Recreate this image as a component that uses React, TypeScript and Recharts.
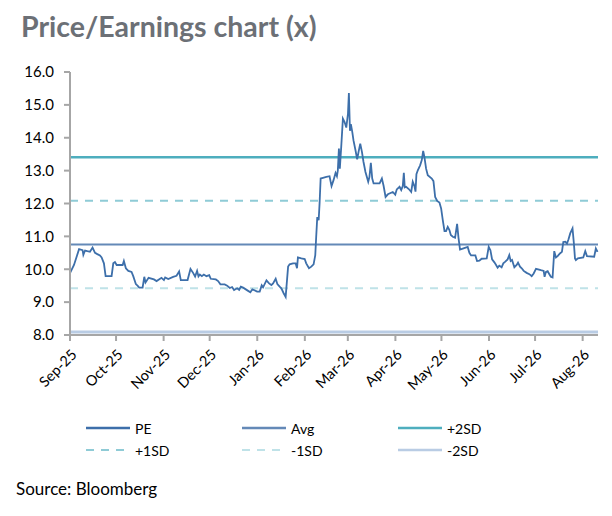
import React from 'react';
import { LineChart, Line, XAxis, YAxis, ReferenceLine } from 'recharts';

// P/E readings: [days since 1 Sep 2025, P/E multiple]
const peSeries: [number, number][] = [
  [0, 9.88], [2.6, 10.13], [5.9, 10.61], [8.2, 10.58], [8.7, 10.44], [9.8, 10.57],
  [11.3, 10.55], [13.0, 10.53], [14.7, 10.66], [16.3, 10.5], [17.8, 10.46], [19.5, 10.42],
  [20.6, 10.36], [22.1, 10.18], [23.2, 9.79], [27.1, 9.79], [28.2, 10.18], [29.3, 10.22],
  [30.4, 10.13], [34.3, 10.13], [35.1, 10.25], [36.4, 10.03], [38.0, 9.95], [40.1, 9.92],
  [41.2, 9.79], [42.9, 9.55], [44.0, 9.5], [45.1, 9.44], [47.3, 9.44], [48.4, 9.77],
  [49.2, 9.6], [51.2, 9.74], [54.7, 9.69], [56.4, 9.64], [59.6, 9.74], [61.2, 9.67],
  [62.0, 9.75], [64.0, 9.7], [67.2, 9.77], [69.4, 9.8], [71.1, 9.93], [72.2, 9.67],
  [76.6, 9.67], [78.5, 10.01], [80.2, 9.89], [81.5, 9.78], [82.8, 9.95], [83.7, 9.78],
  [84.6, 9.84], [85.9, 9.79], [87.2, 9.84], [88.9, 9.79], [90.7, 9.82], [91.7, 9.71],
  [95.0, 9.69], [96.5, 9.64], [98.0, 9.54], [100.8, 9.54], [102.4, 9.5], [104.1, 9.43],
  [105.6, 9.46], [106.9, 9.37], [108.9, 9.42], [110.2, 9.37], [111.3, 9.47], [112.8, 9.44],
  [115.8, 9.35], [117.5, 9.3], [118.8, 9.39], [121.9, 9.32], [123.6, 9.32], [124.9, 9.51],
  [125.8, 9.45], [128.0, 9.66], [129.7, 9.57], [131.2, 9.52], [132.3, 9.57], [134.0, 9.71],
  [135.1, 9.55], [136.6, 9.47], [137.7, 9.42], [139.2, 9.27], [140.5, 9.16], [142.1, 10.08],
  [143.1, 10.15], [145.3, 10.18], [147.0, 10.18], [147.9, 10.03], [148.5, 10.36], [150.7, 10.33],
  [152.9, 10.31], [153.9, 10.18], [155.7, 10.03], [157.2, 10.08], [158.7, 10.15], [159.8, 10.43],
  [160.4, 10.99], [161.1, 11.59], [162.0, 11.49], [162.6, 12.0], [163.3, 12.76], [164.8, 12.78],
  [167.0, 12.81], [169.1, 12.83], [170.4, 12.53], [171.7, 12.71], [173.0, 12.93], [173.9, 12.83],
  [174.5, 13.01], [175.2, 13.67], [175.8, 13.06], [176.7, 13.72], [177.8, 14.58], [178.9, 14.48],
  [180.0, 14.31], [181.1, 14.73], [181.7, 15.36], [182.4, 14.21], [183.0, 14.41], [183.9, 14.18],
  [184.7, 13.92], [186.0, 13.62], [187.1, 13.34], [188.0, 13.57], [189.1, 13.82], [190.2, 13.57],
  [191.2, 13.27], [192.5, 12.96], [194.3, 12.66], [195.1, 12.81], [196.0, 13.24], [196.9, 12.76],
  [197.8, 12.61], [201.7, 12.61], [203.2, 12.76], [204.3, 12.54], [205.6, 12.2], [207.1, 12.28],
  [210.3, 12.35], [211.9, 12.27], [212.9, 12.43], [214.7, 12.51], [215.8, 12.41], [216.8, 12.53],
  [217.5, 12.93], [218.1, 12.49], [219.0, 12.51], [220.7, 12.44], [222.3, 12.35], [223.3, 12.66],
  [224.4, 12.53], [225.1, 12.36], [225.7, 12.89], [226.6, 13.01], [228.1, 13.16], [229.2, 13.32],
  [230.1, 13.6], [230.9, 13.42], [232.0, 13.06], [233.1, 12.86], [235.7, 12.76], [236.8, 12.68],
  [237.9, 12.2], [239.2, 12.08], [240.7, 12.03], [241.8, 11.85], [242.9, 11.49], [244.0, 11.16],
  [245.0, 11.16], [246.1, 11.29], [247.2, 11.19], [248.1, 11.04], [249.4, 10.99], [250.9, 10.96],
  [252.2, 11.38], [253.1, 10.96], [254.1, 10.6], [255.9, 10.63], [259.1, 10.68], [260.2, 10.5],
  [261.3, 10.42], [264.1, 10.42], [265.2, 10.25], [266.7, 10.26], [268.2, 10.32], [271.5, 10.33],
  [272.8, 10.68], [273.9, 10.58], [275.0, 10.3], [276.5, 10.21], [277.6, 10.13], [278.6, 10.05],
  [279.7, 10.11], [281.2, 10.06], [282.3, 10.18], [283.6, 10.23], [285.1, 10.3], [286.2, 10.43],
  [287.1, 10.25], [288.0, 10.28], [289.5, 10.06], [291.0, 10.13], [291.9, 10.2], [293.2, 10.08],
  [294.3, 10.03], [295.6, 9.95], [297.5, 9.89], [299.3, 9.85], [300.8, 9.79], [302.1, 9.87],
  [303.6, 10.01], [306.8, 9.97], [308.6, 9.95], [309.2, 9.77], [310.1, 9.92], [311.2, 9.94],
  [312.3, 9.85], [313.3, 9.77], [314.4, 9.75], [315.5, 10.55], [316.6, 10.36], [317.7, 10.4],
  [319.2, 10.48], [320.5, 10.53], [321.4, 10.83], [322.7, 10.84], [323.8, 10.78], [324.8, 10.91],
  [325.9, 11.09], [327.4, 11.24], [328.3, 10.78], [329.0, 10.33], [329.6, 10.28], [330.9, 10.33],
  [334.4, 10.36], [335.7, 10.55], [336.8, 10.4], [341.5, 10.38], [342.6, 10.63], [343.7, 10.53],
];

// band levels
const bandNames = ['Avg', '+2SD', '+1SD', '-1SD', '-2SD'];
const bandValues = [10.75, 13.41, 12.08, 9.42, 8.09];

const monthLabels = ['Sep-25', 'Oct-25', 'Nov-25', 'Dec-25', 'Jan-26', 'Feb-26',
  'Mar-26', 'Apr-26', 'May-26', 'Jun-26', 'Jul-26', 'Aug-26'];
const yTicks = [8, 9, 10, 11, 12, 13, 14, 15, 16];

const FONT = 'Lato, "Open Sans", sans-serif';
const AXIS = '#A6A6A6';

const styleFor: Record<string, { color: string; width: number; dash?: string }> = {
  PE: { color: '#3D6FAA', width: 1.8 },
  Avg: { color: '#6489B7', width: 2 },
  '+2SD': { color: '#4EAEBE', width: 2.5 },
  '+1SD': { color: '#8FCBD6', width: 2, dash: '8 7' },
  '-1SD': { color: '#BFE2E8', width: 2, dash: '8 7' },
  '-2SD': { color: '#B9CCE4', width: 3 },
};
const legendOrder = ['PE', 'Avg', '+2SD', '+1SD', '-1SD', '-2SD'];

const DAY = 86400000;
const start = Date.UTC(2025, 8, 1);
const monthTicks = monthLabels.map((_, i) => Math.round((Date.UTC(2025, 8 + i, 1) - start) / DAY));

const data = peSeries.map(([day, pe]) => ({ day, pe }));

const MonthTick = ({ x, y, payload }: any) => {
  const i = monthTicks.indexOf(payload.value);
  return (
    <g transform={`translate(${x + 4},${y + 9})`}>
      <text transform="rotate(-45)" textAnchor="end" dy="0.35em" fontSize={14.5} fontFamily={FONT} fill="#000">
        {monthLabels[i]}
      </text>
    </g>
  );
};

const App: React.FC = () => {
  return (
    <div style={{ position: 'absolute', left: 0, top: 0, width: 612, height: 516, background: '#fff', fontFamily: FONT }}>
      <div style={{ position: 'absolute', left: 21, top: 9, fontSize: 28.5, fontWeight: 700, color: '#6C7076' }}>
        Price/Earnings chart (x)
      </div>
      <LineChart width={612} height={410} data={data} margin={{ top: 72, right: 14, bottom: 30, left: 0 }}>
        <XAxis
          dataKey="day"
          type="number"
          domain={[0, 344]}
          ticks={monthTicks}
          interval={0}
          stroke={AXIS}
          strokeWidth={2}
          tickSize={6}
          height={45}
          tick={<MonthTick />}
        />
        <YAxis
          type="number"
          domain={[8, 16]}
          ticks={yTicks}
          interval={0}
          width={70}
          stroke={AXIS}
          strokeWidth={2}
          tickSize={6}
          tickMargin={10}
          tickFormatter={(v: number) => v.toFixed(1)}
          tick={{ fill: '#000', fontSize: 15, fontFamily: FONT }}
        />
        {bandNames.map((name, i) => (
          <ReferenceLine
            key={name}
            y={bandValues[i]}
            stroke={styleFor[name].color}
            strokeWidth={styleFor[name].width}
            strokeDasharray={styleFor[name].dash}
            ifOverflow="extendDomain"
          />
        ))}
        <Line
          type="linear"
          dataKey="pe"
          stroke={styleFor.PE.color}
          strokeWidth={styleFor.PE.width}
          dot={false}
          isAnimationActive={false}
        />
      </LineChart>
      {/* legend: three columns, two rows */}
      {legendOrder.map((name, i) => {
        const col = i % 3;
        const row = Math.floor(i / 3);
        const s = styleFor[name];
        return (
          <div key={name} style={{ position: 'absolute', left: 86 + col * 156, top: 418 + row * 22, height: 20, display: 'flex', alignItems: 'center' }}>
            <svg width={44} height={6}>
              <line x1={0} y1={3} x2={44} y2={3} stroke={s.color} strokeWidth={s.dash ? 2 : 2.5} strokeDasharray={s.dash} />
            </svg>
            <span style={{ marginLeft: 5, fontSize: 14, color: '#000' }}>{name}</span>
          </div>
        );
      })}
      <div style={{ position: 'absolute', left: 16, top: 478, fontSize: 17, color: '#000' }}>
        Source: Bloomberg
      </div>
    </div>
  );
};

export default App;
